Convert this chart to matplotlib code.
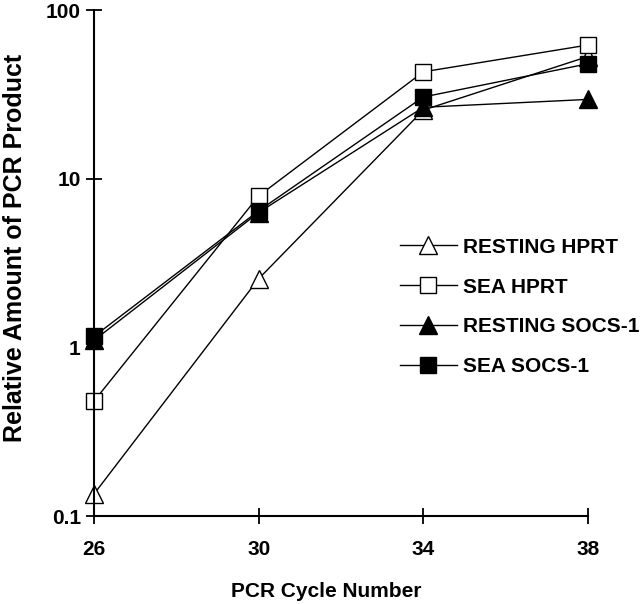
import matplotlib
matplotlib.use("Agg")
import matplotlib.pyplot as plt

plt.rcParams['font.family'] = ['Liberation Sans', 'DejaVu Sans']
plt.rcParams['font.weight'] = 'bold'

# PCR cycle number vs relative amount of product
cycles = [26, 30, 34, 38]
resting_hprt = [0.135, 2.55, 25.5, 53]
sea_hprt = [0.48, 7.9, 43, 62]
resting_socs = [1.1, 6.3, 26.5, 29.5]
sea_socs = [1.16, 6.45, 30.5, 48]

labels = ["RESTING HPRT", "SEA HPRT", "RESTING SOCS-1", "SEA SOCS-1"]

fig = plt.figure(figsize=(6.4, 6.04), dpi=100)
ax = fig.add_axes([94 / 640, 1 - 516 / 604, 494 / 640, 506 / 604])

common = dict(color='black', lw=1.0, mec='black', mew=1.0, clip_on=False)
ax.plot(cycles, resting_hprt, marker='^', ms=13, mfc='white', label=labels[0], **common)
ax.plot(cycles, sea_hprt, marker='s', ms=11, mfc='white', label=labels[1], **common)
ax.plot(cycles, resting_socs, marker='^', ms=13, mfc='black', label=labels[2], **common)
ax.plot(cycles, sea_socs, marker='s', ms=11, mfc='black', label=labels[3], **common)

ax.set_yscale('log')
ax.set_ylim(0.1, 100)
ax.set_xlim(26, 38)
ax.set_xticks(cycles)
ax.set_xticklabels([str(c) for c in cycles])
ax.set_yticks([0.1, 1, 10, 100])
ax.set_yticklabels(['0.1', '1', '10', '100'])
ax.minorticks_off()

for s in ['top', 'right']:
    ax.spines[s].set_visible(False)
for s in ['left', 'bottom']:
    ax.spines[s].set_linewidth(1.5)

ax.tick_params(axis='both', direction='inout', length=11, width=1.3, labelsize=15)
ax.tick_params(axis='x', pad=12)
ax.tick_params(axis='y', pad=4)

ax.set_xlabel("PCR Cycle Number", fontsize=15, fontweight='bold')
ax.xaxis.set_label_coords(0.47, -0.13)
ax.set_ylabel("Relative Amount of PCR Product", fontsize=18, fontweight='bold')
ax.yaxis.set_label_coords(-0.135, 0.53)

leg = ax.legend(loc='upper left', bbox_to_anchor=(0.619, 0.55), frameon=False,
                fontsize=15, handlelength=2.75, handletextpad=0.3,
                labelspacing=1.0, borderpad=0, borderaxespad=0)

fig.savefig("out.png", dpi=100)
